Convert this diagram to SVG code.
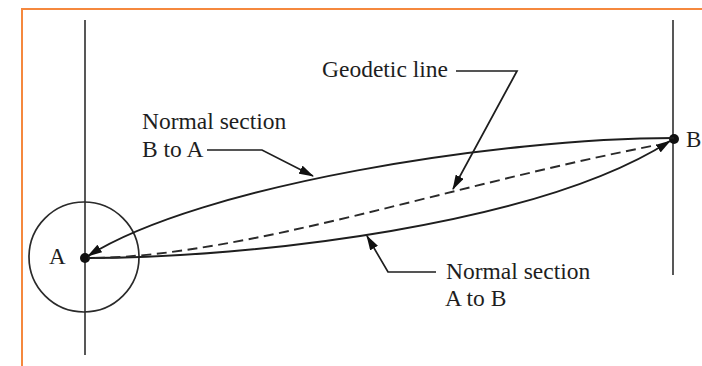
<svg xmlns="http://www.w3.org/2000/svg" width="702" height="366" viewBox="0 0 702 366">
  <style>
    .bg { fill: #ffffff; }
    .frame { fill: none; stroke: #f5883e; stroke-width: 2; }
    .axis { fill: none; stroke: #3a3a3a; stroke-width: 1.7; }
    .curve { fill: none; stroke: #1e1e1e; stroke-width: 1.9; }
    .dash { fill: none; stroke: #2a2a2a; stroke-width: 1.9; stroke-dasharray: 10 5.5; }
    .leader { fill: none; stroke: #1e1e1e; stroke-width: 1.7; }
    .dot { fill: #111111; }
    .ring { fill: none; stroke: #2a2a2a; stroke-width: 1.7; }
    .label { font-family: "Liberation Serif", "Times New Roman", serif; font-size: 23.5px; fill: #1e1e1e; }
    .pt { font-family: "Liberation Serif", "Times New Roman", serif; font-size: 23px; fill: #1e1e1e; }
  </style>
  <defs>
    <marker id="arrow" viewBox="0 0 15 9" refX="14" refY="4.5" markerWidth="15" markerHeight="9" markerUnits="userSpaceOnUse" orient="auto">
      <path d="M0,0 L15,4.5 L0,9 z" fill="#111111"/>
    </marker>
  </defs>
  <rect class="bg" x="0" y="0" width="702" height="366"/>
  <rect class="frame" x="22" y="9" width="720" height="400"/>

  <g id="nodeA">
    <line class="axis" x1="85" y1="20" x2="85" y2="355"/>
    <circle class="ring" cx="84" cy="257" r="55"/>
    <circle class="dot" cx="85" cy="258" r="5"/>
    <text class="pt" x="49" y="264">A</text>
  </g>

  <g id="nodeB">
    <line class="axis" x1="673" y1="20" x2="673" y2="275"/>
    <circle class="dot" cx="674" cy="139" r="5"/>
    <text class="pt" x="686" y="147">B</text>
  </g>

  <g id="connectors">
    <path id="normalBtoA" class="curve" d="M674,138 C500,138 200,185 88,256" marker-end="url(#arrow)"/>
    <path id="normalAtoB" class="curve" d="M88,258 C250,258 540,225 670,141" marker-end="url(#arrow)"/>
    <path id="geodetic" class="dash" d="M95,258 C250,255 450,185 657,145"/>
    <path class="leader" d="M207,150 H262 L313,176" marker-end="url(#arrow)"/>
    <path class="leader" d="M456,71 H517 L453,189" marker-end="url(#arrow)"/>
    <path class="leader" d="M436,272 H388 L367,236" marker-end="url(#arrow)"/>
  </g>

  <g id="labels">
    <text class="label" x="322" y="77">Geodetic line</text>
    <text class="label" x="142" y="129">Normal section</text>
    <text class="label" x="142" y="157">B to A</text>
    <text class="label" x="446" y="279">Normal section</text>
    <text class="label" x="445" y="306">A to B</text>
  </g>
</svg>
